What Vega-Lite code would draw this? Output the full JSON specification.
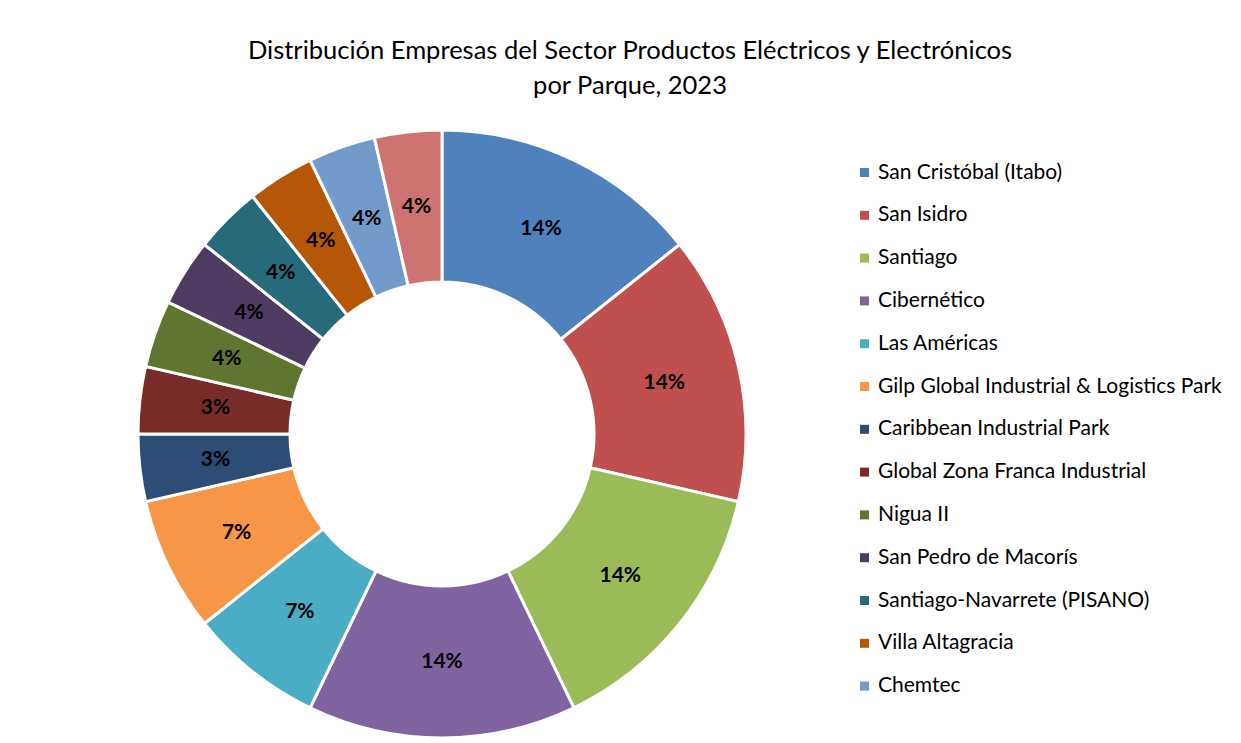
{
  "$schema": "https://vega.github.io/schema/vega-lite/v6.json",
  "width": 884,
  "height": 612,
  "autosize": {"type": "none"},
  "padding": {"left": 0, "top": 128, "right": 357, "bottom": 3},
  "background": "white",
  "config": {"view": {"stroke": null}},
  "title": {
    "text": ["Distribución Empresas del Sector Productos Eléctricos y Electrónicos", "por Parque, 2023"],
    "font": "Lato",
    "fontSize": 25.5,
    "fontWeight": "normal",
    "color": "#000000",
    "anchor": "middle",
    "lineHeight": 35,
    "dx": 188,
    "offset": 25
  },
  "data": {
    "values": [
      {"orden": 1, "parque": "San Cristóbal (Itabo)", "empresas": 4, "etiqueta": "14%"},
      {"orden": 2, "parque": "San Isidro", "empresas": 4, "etiqueta": "14%"},
      {"orden": 3, "parque": "Santiago", "empresas": 4, "etiqueta": "14%"},
      {"orden": 4, "parque": "Cibernético", "empresas": 4, "etiqueta": "14%"},
      {"orden": 5, "parque": "Las Américas", "empresas": 2, "etiqueta": "7%"},
      {"orden": 6, "parque": "Gilp Global Industrial & Logistics Park", "empresas": 2, "etiqueta": "7%"},
      {"orden": 7, "parque": "Caribbean Industrial Park", "empresas": 1, "etiqueta": "3%"},
      {"orden": 8, "parque": "Global Zona Franca Industrial", "empresas": 1, "etiqueta": "3%"},
      {"orden": 9, "parque": "Nigua II", "empresas": 1, "etiqueta": "4%"},
      {"orden": 10, "parque": "San Pedro de Macorís", "empresas": 1, "etiqueta": "4%"},
      {"orden": 11, "parque": "Santiago-Navarrete (PISANO)", "empresas": 1, "etiqueta": "4%"},
      {"orden": 12, "parque": "Villa Altagracia", "empresas": 1, "etiqueta": "4%"},
      {"orden": 13, "parque": "Chemtec", "empresas": 1, "etiqueta": "4%"},
      {"orden": 14, "parque": "Otros", "empresas": 1, "etiqueta": "4%"}
    ]
  },
  "encoding": {
    "theta": {"field": "empresas", "type": "quantitative", "stack": true},
    "order": {"field": "orden", "type": "quantitative"}
  },
  "layer": [
    {
      "mark": {"type": "arc", "innerRadius": 152, "outerRadius": 304, "stroke": "white", "strokeWidth": 3},
      "encoding": {
        "color": {
          "field": "parque",
          "type": "nominal",
          "scale": {
            "domain": ["San Cristóbal (Itabo)", "San Isidro", "Santiago", "Cibernético", "Las Américas", "Gilp Global Industrial & Logistics Park", "Caribbean Industrial Park", "Global Zona Franca Industrial", "Nigua II", "San Pedro de Macorís", "Santiago-Navarrete (PISANO)", "Villa Altagracia", "Chemtec", "Otros"],
            "range": ["#4F81BD", "#C0504D", "#9BBB59", "#8064A2", "#4BACC6", "#F79646", "#2C4D75", "#772C2A", "#5F7530", "#4D3B62", "#276A7C", "#B65708", "#729ACA", "#CD7371"]
          },
          "legend": {
            "title": null,
            "orient": "none",
            "legendX": 854,
            "legendY": 34,
            "values": ["San Cristóbal (Itabo)", "San Isidro", "Santiago", "Cibernético", "Las Américas", "Gilp Global Industrial & Logistics Park", "Caribbean Industrial Park", "Global Zona Franca Industrial", "Nigua II", "San Pedro de Macorís", "Santiago-Navarrete (PISANO)", "Villa Altagracia", "Chemtec"],
            "symbolType": "square",
            "symbolSize": 81,
            "symbolStrokeWidth": 0,
            "labelFont": "Lato",
            "labelFontSize": 21,
            "labelColor": "#000000",
            "labelOffset": 3,
            "labelLimit": 400,
            "rowPadding": 20.8
          }
        }
      }
    },
    {
      "mark": {"type": "text", "radius": 228, "font": "Lato", "fontSize": 21, "fontWeight": "bold", "color": "#000000"},
      "encoding": {
        "text": {"field": "etiqueta", "type": "nominal"}
      }
    }
  ]
}
